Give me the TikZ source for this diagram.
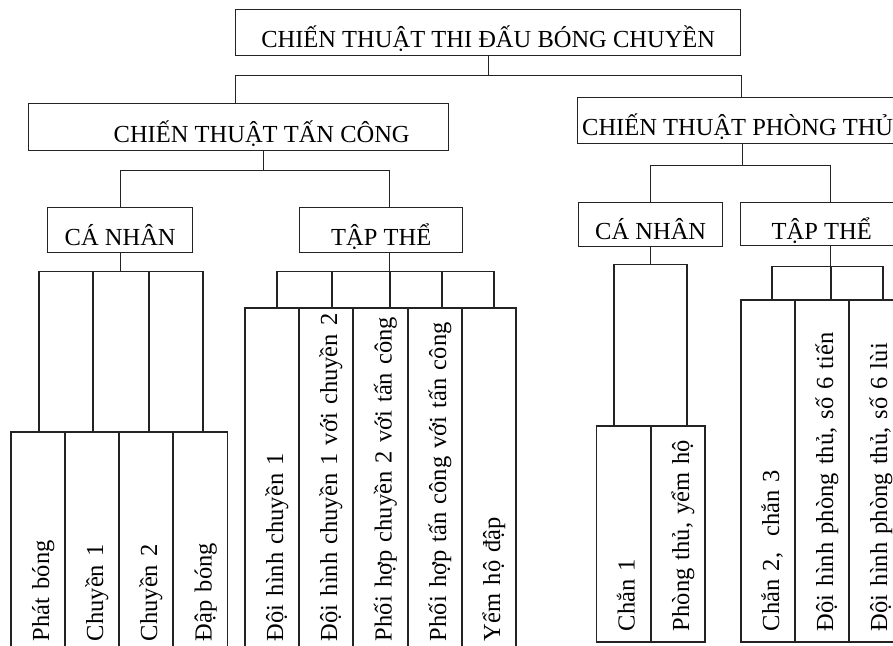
\documentclass[tikz,border=0pt]{standalone}
\usepackage{fontspec}
\setmainfont{Liberation Serif}
\usepackage{tikz}
\definecolor{boxline}{RGB}{35, 35, 35}

\begin{document}
\begin{tikzpicture}[
    x=1pt, y=-1pt,
    head/.style={
        rectangle, anchor=north west,
        draw=boxline, line width=1.4pt,
        inner sep=0pt, text height=33pt, text depth=3pt,
        font=\fontsize{24.5}{28}\selectfont
    },
    leaf/.style={
        rectangle, rotate=90,
        draw=boxline, line width=1.4pt,
        minimum height=54pt, inner xsep=11pt, inner ysep=0pt,
        text width=#1, align=left,
        text height=25pt, text depth=3pt,
        execute at begin node=\hbox\bgroup,
        execute at end node=\egroup,
        font=\fontsize{24.5}{28}\selectfont
    },
    link/.style={
        line width=1.4pt, draw=boxline
    }
]
\useasboundingbox (0,0) rectangle (893,645);
\clip (0,0) rectangle (893,645);

% Heads
\node[head, minimum width=505pt, minimum height=46pt] (root) at (235,9) {CHIẾN THUẬT THI ĐẤU BÓNG CHUYỀN};
\node[head, minimum width=420pt, minimum height=47pt] (atk) at (28,103) {\hspace*{46pt}CHIẾN THUẬT TẤN CÔNG};
\node[head, minimum width=320pt, minimum height=46pt] (def) at (577,97) {CHIẾN THUẬT PHÒNG THỦ};

\node[head, minimum width=145pt, minimum height=45pt] (atkInd) at (47,207) {CÁ NHÂN};
\node[head, minimum width=163pt, minimum height=45pt] (atkTeam) at (299,207) {TẬP THỂ};
\node[head, minimum width=144pt, minimum height=44pt] (defInd) at (578,202) {CÁ NHÂN};
\node[head, minimum width=162pt, minimum height=43pt] (defTeam) at (740,202) {TẬP THỂ};

% Attack leaves
\node[leaf=198pt] (serve) at (38,542) {Phát bóng};
\node[leaf=198pt] (passA) at (92,542) {Chuyền 1};
\node[leaf=198pt] (passB) at (146,542) {Chuyền 2};
\node[leaf=198pt] (spike) at (200.5,542) {Đập bóng};

\node[leaf=322pt] (formA) at (272,480) {Đội hình chuyền 1};
\node[leaf=322pt] (formAB) at (326,480) {Đội hình chuyền 1 với chuyền 2};
\node[leaf=322pt] (comboB) at (380.5,480) {Phối hợp chuyền 2 với tấn công};
\node[leaf=322pt] (comboAtk) at (435,480) {Phối hợp tấn công với tấn công};
\node[leaf=322pt] (cover) at (489,480) {Yểm hộ đập};

% Defense leaves
\node[leaf=194pt] (blockA) at (623.5,534) {Chắn 1};
\node[leaf=194pt] (guard) at (678,534) {Phòng thủ, yểm hộ};

\node[leaf=320pt] (blockBC) at (768,471) {Chắn 2,\ \ chắn 3};
\node[leaf=320pt] (formFwd) at (822,471) {Đội hình phòng thủ, số 6 tiến};
\node[leaf=320pt] (formBack) at (876,471) {Đội hình phòng thủ, số 6 lùi};

% Top links
\draw[link] (root.south) -- ++(0,19) -| ([xshift=-3pt]atk.north);
\draw[link] (root.south) -- ++(0,19) -| ([xshift=3.5pt]def.north);

\draw[link] ([xshift=25pt]atk.south) -- ++(0,19) -| (atkInd.north);
\draw[link] ([xshift=25pt]atk.south) -- ++(0,19) -| ([xshift=8.5pt]atkTeam.north);
\draw[link] ([xshift=4.5pt]def.south) -- ++(0,21) -| (defInd.north);
\draw[link] ([xshift=4.5pt]def.south) -- ++(0,21) -| ([xshift=9pt]defTeam.north);

% Leaf links
\draw[link] (atkInd.south) -- ++(0,18) -| ([xshift=1pt]serve.east);
\draw[link] (atkInd.south) -- ++(0,18) -| ([xshift=1pt]passA.east);
\draw[link] (atkInd.south) -- ++(0,18) -| ([xshift=3pt]passB.east);
\draw[link] (atkInd.south) -- ++(0,18) -| ([xshift=2.5pt]spike.east);

\draw[link] ([xshift=8.5pt]atkTeam.south) -- ++(0,18) -| ([xshift=5pt]formA.east);
\draw[link] ([xshift=8.5pt]atkTeam.south) -- ++(0,18) -| ([xshift=6pt]formAB.east);
\draw[link] ([xshift=8.5pt]atkTeam.south) -- ++(0,18) -| ([xshift=9.5pt]comboB.east);
\draw[link] ([xshift=8.5pt]atkTeam.south) -- ++(0,18) -| ([xshift=7pt]comboAtk.east);
\draw[link] ([xshift=8.5pt]atkTeam.south) -- ++(0,18) -| ([xshift=5pt]cover.east);

\draw[link] (defInd.south) -- ++(0,17) -| ([xshift=-9.5pt]blockA.east);
\draw[link] (defInd.south) -- ++(0,17) -| ([xshift=9pt]guard.east);

\draw[link] ([xshift=9pt]defTeam.south) -- ++(0,20) -| ([xshift=4pt]blockBC.east);
\draw[link] ([xshift=9pt]defTeam.south) -- ++(0,20) -| ([xshift=9pt]formFwd.east);
\draw[link] ([xshift=9pt]defTeam.south) -- ++(0,20) -| ([xshift=7pt]formBack.east);

\end{tikzpicture}
\end{document}
